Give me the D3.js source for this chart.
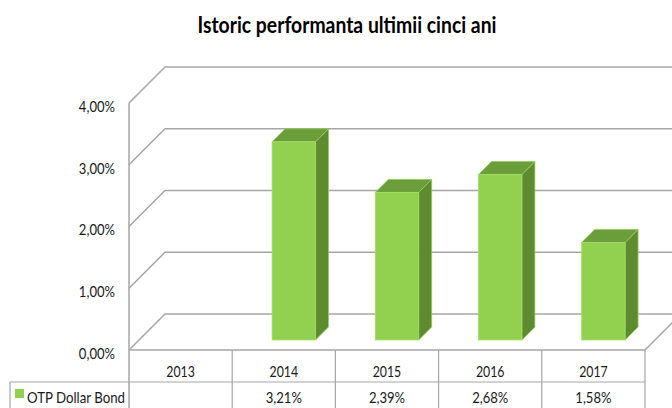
<!DOCTYPE html>
<html>
<head>
<meta charset="utf-8">
<script src="https://cdn.jsdelivr.net/npm/d3@7"></script>
<style>
  body { margin: 0; background: #fff; }
  text { font-family: Lato, "Open Sans", sans-serif; fill: #1a1a1a; }
</style>
</head>
<body>
<script>
// chart data
var years = ["2013", "2014", "2015", "2016", "2017"];
var values = [null, 3.21, 2.39, 2.68, 1.58];
var seriesName = "OTP Dollar Bond";
var yTicks = [0, 1, 2, 3, 4];
var title = "Istoric performanta ultimii cinci ani";

var W = 672, H = 408;
var left = 129, right = 645, floorY = 350, topY = 103;
var depth = 36;      // wall depth (3d offset)
var barShift = 10;   // bar front plane offset
var barDepth = 13;

var svg = d3.select("body")
    .append("svg")
    .attr("width", W)
    .attr("height", H);

var x = d3.scaleBand()
    .domain(years)
    .range([left, right])
    .paddingInner(0.58)
    .paddingOuter(0.29);

var col = d3.scaleBand()
    .domain(years)
    .range([left, right])
    .padding(0);

var y = d3.scaleLinear()
    .domain([0, 4])
    .range([floorY, topY]);

var fmt = function (v) { return d3.format(".2f")(v).replace(".", ",") + "%"; };

function squeeze(sel, k) {
    sel.each(function () {
        var n = this.getComputedTextLength();
        d3.select(this).attr("textLength", n * k).attr("lengthAdjust", "spacingAndGlyphs");
    });
}

// title
svg.append("text")
    .attr("x", 347)
    .attr("y", 33)
    .attr("text-anchor", "middle")
    .style("font-size", "22px")
    .style("font-weight", "bold")
    .style("fill", "#000")
    .attr("textLength", 299)
    .attr("lengthAdjust", "spacingAndGlyphs")
    .text(title);

// walls: gridlines on left side and back wall
var grid = svg.append("g")
    .attr("fill", "none")
    .attr("stroke", "#a6a6a6")
    .attr("stroke-width", 1.5);

grid.selectAll("path.grid")
    .data(yTicks)
    .enter()
    .append("path")
    .attr("class", "grid")
    .attr("d", function (d) {
        return "M" + left + "," + y(d) +
            "L" + (left + depth) + "," + (y(d) - depth) +
            "L" + (W + 10) + "," + (y(d) - depth);
    });

// floor front edge and right side
grid.append("path")
    .attr("d", "M" + left + "," + floorY + "L" + right + "," + floorY +
        "L" + (right + depth) + "," + (floorY - depth));

// left axis line (runs down into the table)
grid.append("line")
    .attr("x1", left).attr("x2", left)
    .attr("y1", y(4)).attr("y2", H);

// y labels
var yAxis = svg.append("g")
    .attr("transform", "translate(" + (left - 14) + ",0)")
    .call(d3.axisLeft(y).tickValues(yTicks).tickFormat(fmt).tickSize(0).tickPadding(0));
yAxis.select(".domain").remove();
yAxis.selectAll("text")
    .attr("dy", "0.55em")
    .style("font-size", "15px")
    .style("font-family", "Lato, sans-serif")
    .style("fill", "#1a1a1a");
squeeze(yAxis.selectAll("text"), 0.87);

// bars
var bars = svg.append("g")
    .selectAll("g.bar")
    .data(years.map(function (d, i) { return { year: d, value: values[i] }; })
        .filter(function (d) { return d.value != null; }))
    .enter()
    .append("g")
    .attr("class", "bar");

bars.append("path")
    .attr("fill", "#5e8a30")
    .attr("stroke", "#8fcf52")
    .attr("stroke-width", 0.8)
    .attr("d", function (d) {
        var x1 = x(d.year) + barShift + x.bandwidth();
        var yt = y(d.value) - barShift, yb = y(0) - barShift;
        return "M" + x1 + "," + yb + "L" + x1 + "," + yt +
            "L" + (x1 + barDepth) + "," + (yt - barDepth) +
            "L" + (x1 + barDepth) + "," + (yb - barDepth) + "Z";
    });

bars.append("path")
    .attr("fill", "#6b9e3a")
    .attr("stroke", "#8fcf52")
    .attr("stroke-width", 0.8)
    .attr("d", function (d) {
        var x0 = x(d.year) + barShift, x1 = x0 + x.bandwidth();
        var yt = y(d.value) - barShift;
        return "M" + x0 + "," + yt + "L" + x1 + "," + yt +
            "L" + (x1 + barDepth) + "," + (yt - barDepth) +
            "L" + (x0 + barDepth) + "," + (yt - barDepth) + "Z";
    });

bars.append("rect")
    .attr("fill", "#92d050")
    .attr("stroke", "#a3dc66")
    .attr("stroke-width", 0.8)
    .attr("x", function (d) { return x(d.year) + barShift; })
    .attr("y", function (d) { return y(d.value) - barShift; })
    .attr("width", x.bandwidth())
    .attr("height", function (d) { return y(0) - y(d.value); });

// data table
var table = svg.append("g")
    .attr("stroke", "#a6a6a6")
    .attr("stroke-width", 1.2)
    .attr("fill", "none");

table.append("line")
    .attr("x1", 10).attr("x2", right)
    .attr("y1", 382).attr("y2", 382);
table.append("line")
    .attr("x1", 10).attr("x2", 10)
    .attr("y1", 382).attr("y2", H);
table.selectAll("line.col")
    .data(years)
    .enter()
    .append("line")
    .attr("class", "col")
    .attr("x1", function (d) { return col(d) + col.bandwidth(); })
    .attr("x2", function (d) { return col(d) + col.bandwidth(); })
    .attr("y1", floorY)
    .attr("y2", H);

var yearText = svg.append("g")
    .selectAll("text")
    .data(years)
    .enter()
    .append("text")
    .attr("x", function (d) { return col(d) + col.bandwidth() / 2; })
    .attr("y", 377)
    .attr("text-anchor", "middle")
    .style("font-size", "15px")
    .text(function (d) { return d; });
squeeze(yearText, 0.82);

var valText = svg.append("g")
    .selectAll("text")
    .data(years.map(function (d, i) { return { year: d, value: values[i] }; })
        .filter(function (d) { return d.value != null; }))
    .enter()
    .append("text")
    .attr("x", function (d) { return col(d.year) + col.bandwidth() / 2; })
    .attr("y", 403)
    .attr("text-anchor", "middle")
    .style("font-size", "15px")
    .text(function (d) { return fmt(d.value); });
squeeze(valText, 0.87);

// legend key in the table
svg.append("rect")
    .attr("x", 15)
    .attr("y", 389)
    .attr("width", 9)
    .attr("height", 9)
    .attr("fill", "#92d050");

var legText = svg.append("text")
    .attr("x", 27)
    .attr("y", 403)
    .style("font-size", "15px")
    .text(seriesName);
legText.attr("textLength", 98).attr("lengthAdjust", "spacingAndGlyphs");
</script>
</body>
</html>
